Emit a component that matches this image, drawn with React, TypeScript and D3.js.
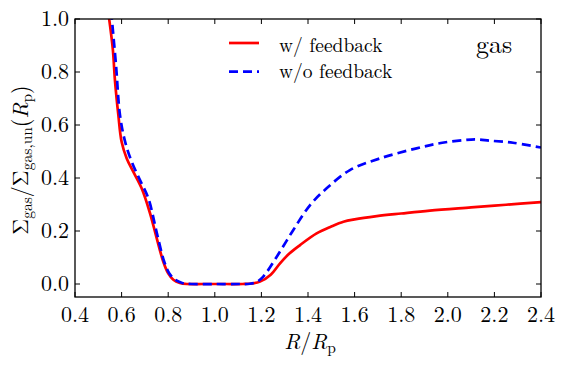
import React from "react";
import * as d3 from "d3";

// radius in units of R_p, surface density normalised to the unperturbed value
const redX = [0.542, 0.562, 0.572, 0.586, 0.600, 0.622, 0.650, 0.686, 0.722, 0.750, 0.779, 0.800, 0.822, 0.850, 0.880, 0.95, 1.05, 1.12, 1.16, 1.194, 1.24, 1.28, 1.32, 1.366, 1.437, 1.50, 1.552, 1.60, 1.695, 1.80, 1.923, 2.10, 2.25, 2.40];
const redY = [1.03, 0.889, 0.763, 0.638, 0.537, 0.474, 0.424, 0.361, 0.267, 0.175, 0.084, 0.040, 0.016, 0.004, 0, 0, 0, 0, 0.002, 0.009, 0.035, 0.078, 0.115, 0.147, 0.191, 0.217, 0.235, 0.244, 0.256, 0.266, 0.277, 0.289, 0.299, 0.309];

const blueX = [0.555, 0.576, 0.593, 0.615, 0.643, 0.679, 0.715, 0.750, 0.783, 0.805, 0.83, 0.86, 0.90, 1.0, 1.1, 1.151, 1.18, 1.208, 1.266, 1.337, 1.409, 1.480, 1.580, 1.709, 1.866, 1.97, 2.067, 2.12, 2.181, 2.28, 2.40];
const blueY = [1.03, 0.826, 0.638, 0.537, 0.462, 0.392, 0.323, 0.197, 0.084, 0.040, 0.016, 0.004, 0, 0, 0, 0.001, 0.008, 0.028, 0.103, 0.204, 0.298, 0.361, 0.430, 0.474, 0.512, 0.532, 0.543, 0.546, 0.541, 0.533, 0.515];

const xTicks = [0.4, 0.6, 0.8, 1.0, 1.2, 1.4, 1.6, 1.8, 2.0, 2.2, 2.4];
const yTicks = [0.0, 0.2, 0.4, 0.6, 0.8, 1.0];

const W = 566, H = 367;
const m = { left: 75, right: 541, top: 19, bottom: 297 };
const font = "Latin Modern Roman";

export default function App() {
  const x = d3.scaleLinear().domain([0.4, 2.4]).range([m.left, m.right]);
  const y = d3.scaleLinear().domain([-0.049, 1.0]).range([m.bottom, m.top]);

  const line = d3.line<[number, number]>()
    .x(d => x(d[0]))
    .y(d => y(d[1]))
    .curve(d3.curveCatmullRom.alpha(0.5));

  const red = redX.map((v, i) => [v, redY[i]] as [number, number]);
  const blue = blueX.map((v, i) => [v, blueY[i]] as [number, number]);

  return (
    <svg width={W} height={H} style={{ position: "absolute", left: 0, top: 0, background: "#fff" }}>
      <defs>
        <clipPath id="plot">
          <rect x={m.left} y={m.top} width={m.right - m.left} height={m.bottom - m.top} />
        </clipPath>
      </defs>
      <g clipPath="url(#plot)">
        <path d={line(red) || ""} fill="none" stroke="#ff0000" strokeWidth={2.7} />
        <path d={line(blue) || ""} fill="none" stroke="#0000ff" strokeWidth={2.7} strokeDasharray="9,5" />
      </g>

      {/* ticks on all four sides, pointing in */}
      {xTicks.map(t => (
        <g key={"x" + t}>
          <line x1={x(t)} x2={x(t)} y1={m.bottom} y2={m.bottom - 5} stroke="#000" />
          <line x1={x(t)} x2={x(t)} y1={m.top} y2={m.top + 5} stroke="#000" />
          <text x={x(t)} y={322} textAnchor="middle" fontFamily={font} fontSize={22}>{t.toFixed(1)}</text>
        </g>
      ))}
      {yTicks.map(t => (
        <g key={"y" + t}>
          <line x1={m.left} x2={m.left + 5} y1={y(t)} y2={y(t)} stroke="#000" />
          <line x1={m.right} x2={m.right - 5} y1={y(t)} y2={y(t)} stroke="#000" />
          <text x={69} y={y(t) + 7.3} textAnchor="end" fontFamily={font} fontSize={22}>{t.toFixed(1)}</text>
        </g>
      ))}
      <rect x={m.left} y={m.top} width={m.right - m.left} height={m.bottom - m.top} fill="none" stroke="#000" strokeWidth={1.3} />

      {/* legend */}
      <line x1={229} x2={259} y1={43} y2={43} stroke="#ff0000" strokeWidth={2.7} />
      <text x={279} y={51.5} fontFamily={font} fontSize={19.5}>w/ feedback</text>
      <line x1={229} x2={259} y1={71.7} y2={71.7} stroke="#0000ff" strokeWidth={2.7} strokeDasharray="9,5" />
      <text x={279} y={78.3} fontFamily={font} fontSize={19.5}>w/o feedback</text>
      <text x={476} y={53} fontFamily={font} fontSize={26}>gas</text>

      {/* axis labels */}
      <text x={310} y={349} textAnchor="middle" fontFamily={font} fontSize={22}>
        <tspan fontStyle="italic">R</tspan>/<tspan fontStyle="italic">R</tspan>
        <tspan fontSize={15.5} dy={3.5}>p</tspan>
      </text>
      <text transform="translate(28,160) rotate(-90)" textAnchor="middle" fontFamily={font} fontSize={22}>
        Σ<tspan fontSize={15.5} dy={3.5}>gas</tspan>
        <tspan dy={-3.5}>/Σ</tspan>
        <tspan fontSize={15.5} dy={3.5}>gas,un</tspan>
        <tspan dy={-3.5}>(</tspan>
        <tspan fontStyle="italic">R</tspan>
        <tspan fontSize={15.5} dy={3.5}>p</tspan>
        <tspan dy={-3.5}>)</tspan>
      </text>
    </svg>
  );
}
